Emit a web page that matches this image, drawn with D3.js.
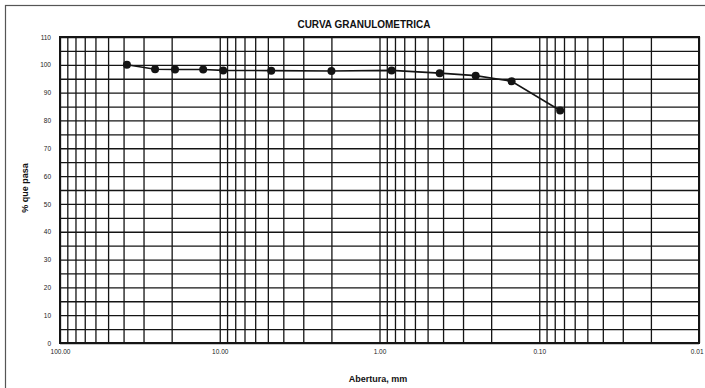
<!DOCTYPE html>
<html>
<head>
<meta charset="utf-8">
<script src="https://cdn.jsdelivr.net/npm/d3@7/dist/d3.min.js"></script>
<style>
  html, body { margin: 0; padding: 0; background: #fff; }
  svg { display: block; }
</style>
</head>
<body>
<script>
// Sieve openings (mm) and cumulative percent passing
const aberturas = [38.1, 25.4, 19.05, 12.7, 9.52, 4.76, 2.00, 0.84, 0.42, 0.25, 0.149, 0.074];
const pasa      = [100.0, 98.4, 98.3, 98.3, 98.0, 97.9, 97.8, 98.0, 97.0, 96.1, 94.1, 83.6];

// Axis tick labels
const xTickValues = [100, 10, 1, 0.1, 0.01];
const xTickLabels = ["100.00", "10.00", "1.00", "0.10", "0.01"];
const yTickValues = [0, 10, 20, 30, 40, 50, 60, 70, 80, 90, 100, 110];
const yGridValues = d3.range(0, 111, 5);

const W = 705, H = 388;
const plot = { left: 60, right: 699, top: 37, bottom: 343 };
const ink = "#141414";

const svg = d3.select("body").append("svg")
  .attr("width", W).attr("height", H);

// outer frame
svg.append("rect")
  .attr("x", 5.5).attr("y", 5.5).attr("width", 720).attr("height", 400)
  .attr("fill", "none").attr("stroke", "#555").attr("stroke-width", 1.2);

const x = d3.scaleLog().domain([100, 0.01]).range([plot.left, plot.right]);
const y = d3.scaleLinear().domain([0, 110]).range([plot.bottom, plot.top]);

// vertical log grid (1..9 in each decade)
const g = svg.append("g");
g.append("g")
  .attr("transform", `translate(0,${plot.bottom})`)
  .call(d3.axisBottom(x).tickValues(x.ticks()).tickSize(-(plot.bottom - plot.top)).tickFormat(""))
  .call(s => s.select(".domain").remove())
  .call(s => s.selectAll("line").attr("stroke", ink).attr("stroke-width", 1.3));

// horizontal grid every 5 %
g.append("g")
  .attr("transform", `translate(${plot.left},0)`)
  .call(d3.axisLeft(y).tickValues(yGridValues).tickSize(-(plot.right - plot.left)).tickFormat(""))
  .call(s => s.select(".domain").remove())
  .call(s => s.selectAll("line").attr("stroke", ink).attr("stroke-width", 1.3));

// plot border
svg.append("rect")
  .attr("x", plot.left).attr("y", plot.top)
  .attr("width", plot.right - plot.left).attr("height", plot.bottom - plot.top)
  .attr("fill", "none").attr("stroke", ink).attr("stroke-width", 2);

// x tick labels (the last one is kept inside the page edge)
svg.append("g")
  .attr("transform", `translate(0,${plot.bottom})`)
  .call(d3.axisBottom(x).tickValues(xTickValues).tickSize(0).tickPadding(6)
    .tickFormat((d, i) => xTickLabels[i]))
  .call(s => s.select(".domain").remove())
  .call(s => s.selectAll("text").attr("font-family", "Arial, 'Liberation Sans', sans-serif")
    .attr("font-size", 6.5).attr("fill", "#222"))
  .call(s => s.selectAll(".tick").filter((d, i) => i === xTickValues.length - 1)
    .select("text").attr("text-anchor", "end").attr("x", 4));

// y tick labels
svg.append("g")
  .attr("transform", `translate(${plot.left},0)`)
  .call(d3.axisLeft(y).tickValues(yTickValues).tickSize(0).tickPadding(9))
  .call(s => s.select(".domain").remove())
  .call(s => s.selectAll("text").attr("font-family", "Arial, 'Liberation Sans', sans-serif")
    .attr("font-size", 6.5).attr("fill", "#222"));

// grading curve
const pts = aberturas.map((d, i) => [d, pasa[i]]);
svg.append("path")
  .datum(pts)
  .attr("fill", "none").attr("stroke", ink).attr("stroke-width", 1.6)
  .attr("d", d3.line().x(d => x(d[0])).y(d => y(d[1])));

svg.append("g").selectAll("circle")
  .data(pts).join("circle")
  .attr("cx", d => x(d[0])).attr("cy", d => y(d[1]))
  .attr("r", 4)
  .attr("fill", ink);

// titles
svg.append("text")
  .attr("x", 364).attr("y", 28).attr("text-anchor", "middle")
  .attr("font-family", "Arial, 'Liberation Sans', sans-serif")
  .attr("font-weight", "bold").attr("font-size", 10).attr("fill", "#111")
  .text("CURVA GRANULOMETRICA");

svg.append("text")
  .attr("x", 378).attr("y", 382).attr("text-anchor", "middle")
  .attr("font-family", "Arial, 'Liberation Sans', sans-serif")
  .attr("font-weight", "bold").attr("font-size", 9).attr("fill", "#111")
  .text("Abertura, mm");

svg.append("text")
  .attr("transform", `translate(28,188) rotate(-90)`)
  .attr("text-anchor", "middle")
  .attr("font-family", "Arial, 'Liberation Sans', sans-serif")
  .attr("font-weight", "bold").attr("font-size", 9).attr("fill", "#111")
  .text("% que pasa");
</script>
</body>
</html>
